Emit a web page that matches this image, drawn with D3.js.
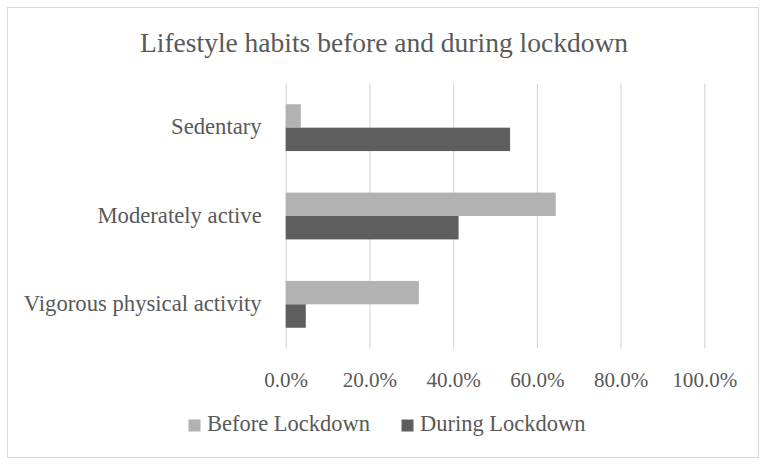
<!DOCTYPE html>
<html>
<head>
<meta charset="utf-8">
<script src="https://cdn.jsdelivr.net/npm/d3@7"></script>
<style>
  html, body { margin: 0; padding: 0; background: #fff; }
  svg { display: block; }
  text { font-family: "Palatino Linotype", "Book Antiqua", Palatino, "Liberation Serif", serif; fill: #595959; }
</style>
</head>
<body>
<svg id="chart" width="769" height="466"></svg>
<script>
const title = "Lifestyle habits before and during lockdown";
const categories = ["Sedentary", "Moderately active", "Vigorous physical activity"];
const seriesNames = ["Before Lockdown", "During Lockdown"];
const beforeValues = [0.036, 0.645, 0.318];
const duringValues = [0.536, 0.413, 0.048];
const tickValues = [0, 0.2, 0.4, 0.6, 0.8, 1.0];
const tickLabels = ["0.0%", "20.0%", "40.0%", "60.0%", "80.0%", "100.0%"];
const colors = ["#b2b2b2", "#5e5e5e"];

const svg = d3.select("#chart");

// fit a text's font size so its width matches a target
function fit(sel, target) {
  const base = 20;
  sel.style("font-size", base + "px");
  const w = sel.node().getComputedTextLength();
  const fs = base * target / w;
  sel.style("font-size", fs + "px");
  return fs;
}

// border
svg.append("rect").attr("x", 7.5).attr("y", 7.5).attr("width", 751).attr("height", 450)
  .attr("fill", "#fff").attr("stroke", "#d9d9d9").attr("stroke-width", 1);

// title
const t = svg.append("text").attr("x", 384).attr("y", 52).attr("text-anchor", "middle").text(title);
fit(t, 488);

const x = d3.scaleLinear().domain([0, 1]).range([285.7, 704.3]);
const y = d3.scaleBand().domain(categories).range([83.5, 348.5]).paddingInner(0.47).paddingOuter(0.235);
const yi = d3.scaleBand().domain(seriesNames).range([0, y.bandwidth()]);

// gridlines + tick labels
const xAxis = d3.axisBottom(x).tickValues(tickValues).tickSize(-(348.5 - 83.5)).tickFormat((d, i) => tickLabels[i]);
const gx = svg.append("g").attr("transform", "translate(0,348.5)").call(xAxis);
gx.select(".domain").remove();
gx.selectAll(".tick line").attr("stroke", "#d9d9d9").attr("stroke-width", 1.2);
gx.selectAll(".tick text").attr("font-family", null).attr("fill", "#595959").attr("dy", null).attr("y", 38);
const lastTick = gx.selectAll(".tick text").filter((d, i) => i === tickValues.length - 1);
const tfs = fit(lastTick, 65);
gx.selectAll(".tick text").style("font-size", tfs + "px");

// bars
const data = [];
categories.forEach((c, i) => {
  data.push({ cat: c, s: seriesNames[0], v: beforeValues[i], col: colors[0] });
  data.push({ cat: c, s: seriesNames[1], v: duringValues[i], col: colors[1] });
});
svg.append("g").selectAll("rect").data(data).join("rect")
  .attr("x", x(0))
  .attr("y", d => y(d.cat) + yi(d.s))
  .attr("width", d => x(d.v) - x(0))
  .attr("height", yi.bandwidth())
  .attr("fill", d => d.col);

// category labels
const yAxis = d3.axisLeft(y).tickSize(0).tickPadding(24);
const gy = svg.append("g").attr("transform", "translate(285.7,0)").call(yAxis);
gy.select(".domain").remove();
gy.selectAll(".tick text").attr("font-family", null).attr("fill", "#595959").attr("dy", "0.3em");
const longest = gy.selectAll(".tick text").filter((d, i) => i === 2);
const cfs = fit(longest, 238);
gy.selectAll(".tick text").style("font-size", cfs + "px");

// legend
const legendX = [188.5, 401.5];
const lg = svg.append("g");
let lfs = null;
seriesNames.forEach((s, i) => {
  lg.append("rect").attr("x", legendX[i]).attr("y", 419.5).attr("width", 12).attr("height", 12).attr("fill", colors[i]);
  const lt = lg.append("text").attr("x", legendX[i] + 18.5).attr("y", 431).text(s);
  if (i === 0) lfs = fit(lt, 163); else lt.style("font-size", lfs + "px");
});
</script>
</body>
</html>
